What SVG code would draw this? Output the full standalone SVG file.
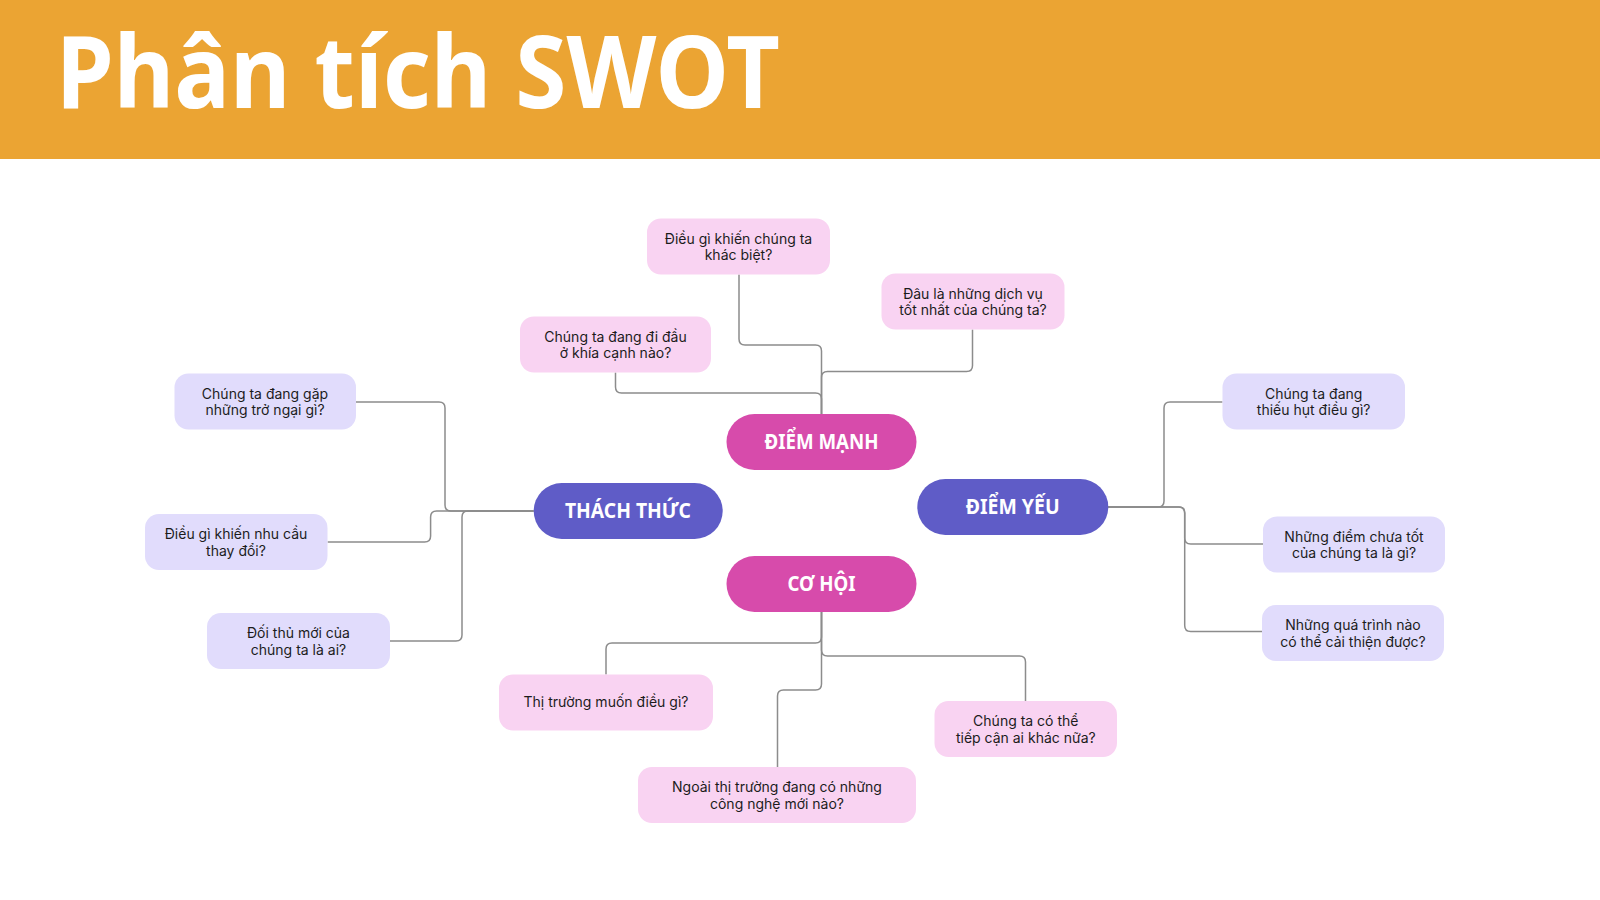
<svg xmlns="http://www.w3.org/2000/svg" width="1600" height="900" viewBox="0 0 1600 900">
<style>
.hdr{fill:#EBA433}
.title{font-family:"Noto Sans","Open Sans","DejaVu Sans",sans-serif;font-weight:700;font-size:100px;fill:#ffffff}
.pk{fill:#D74BAB}
.pu{fill:#5F5CC7}
.lp{fill:#F9D3F2}
.lv{fill:#E1DCFC}
.ct{font-family:"Noto Sans","Open Sans","DejaVu Sans",sans-serif;font-weight:700;font-size:22px;fill:#ffffff;text-anchor:middle}
.lt{font-family:Inter,"Noto Sans","Liberation Sans",sans-serif;font-size:14px;fill:#1c1c1c;text-anchor:middle}
.cn path{fill:none;stroke:#8C8C8C;stroke-width:1.5}
</style>
<rect class="hdr" x="0" y="0" width="1600" height="159"/>
<text class="title" x="56" y="108" textLength="724" lengthAdjust="spacingAndGlyphs">Phân tích SWOT</text>

<g id="connectors" class="cn">
<path d="M821.5,414 V351 Q821.5,345 815.5,345 H745 Q739,345 739,339 V274.5"/>
<path d="M821.5,414 V377.5 Q821.5,371.5 827.5,371.5 H966.5 Q972.5,371.5 972.5,365.5 V329.6"/>
<path d="M821.5,414 V399 Q821.5,393 815.5,393 H621.5 Q615.5,393 615.5,387 V372.5"/>
<path d="M533.7,511 H451 Q445,511 445,505 V408 Q445,402 439,402 H356"/>
<path d="M533.7,511 H436.6 Q430.6,511 430.6,517 V536 Q430.6,542 424.6,542 H327.6"/>
<path d="M533.7,511 H468 Q462,511 462,517 V635 Q462,641 456,641 H390"/>
<path d="M1108,507 H1158 Q1164,507 1164,501 V408 Q1164,402 1170,402 H1222.5"/>
<path d="M1108,507 H1178.7 Q1184.7,507 1184.7,513 V538 Q1184.7,544 1190.7,544 H1263"/>
<path d="M1108,507 H1178.7 Q1184.7,507 1184.7,513 V625.6 Q1184.7,631.6 1190.7,631.6 H1262"/>
<path d="M821.5,612 V637 Q821.5,643 815.5,643 H612 Q606,643 606,649 V674.5"/>
<path d="M821.5,612 V650 Q821.5,656 827.5,656 H1019.5 Q1025.5,656 1025.5,662 V701"/>
<path d="M821.5,612 V684 Q821.5,690 815.5,690 H783.5 Q777.5,690 777.5,696 V767"/>
</g>

<g id="diem-manh">
<rect class="pk" x="726.5" y="414" width="190" height="56" rx="28"/>
<text class="ct" x="821.5" y="448.5" textLength="114" lengthAdjust="spacingAndGlyphs">ĐIỂM MẠNH</text>
</g>
<g id="thach-thuc">
<rect class="pu" x="533.7" y="483" width="189" height="56" rx="28"/>
<text class="ct" x="628" y="517.5" textLength="126" lengthAdjust="spacingAndGlyphs">THÁCH THỨC</text>
</g>
<g id="diem-yeu">
<rect class="pu" x="917.3" y="479" width="191" height="56" rx="28"/>
<text class="ct" x="1012.7" y="513.5" textLength="94" lengthAdjust="spacingAndGlyphs">ĐIỂM YẾU</text>
</g>
<g id="co-hoi">
<rect class="pk" x="726.5" y="556" width="190" height="56" rx="28"/>
<text class="ct" x="821.5" y="590.5" textLength="68" lengthAdjust="spacingAndGlyphs">CƠ HỘI</text>
</g>

<g id="s1">
<rect class="lp" x="647" y="218.5" width="183" height="56" rx="14"/>
<text class="lt" x="738.5" y="243.5">Điều gì khiến chúng ta</text>
<text class="lt" x="738.5" y="260">khác biệt?</text>
</g>
<g id="s2">
<rect class="lp" x="881.5" y="273.5" width="183" height="56" rx="14"/>
<text class="lt" x="973" y="298.5">Đâu là những dịch vụ</text>
<text class="lt" x="973" y="315">tốt nhất của chúng ta?</text>
</g>
<g id="s3">
<rect class="lp" x="520" y="316.5" width="191" height="56" rx="14"/>
<text class="lt" x="615.5" y="341.5">Chúng ta đang đi đầu</text>
<text class="lt" x="615.5" y="358">ở khía cạnh nào?</text>
</g>

<g id="t1">
<rect class="lv" x="174.5" y="373.5" width="181.5" height="56" rx="14"/>
<text class="lt" x="265" y="398.5">Chúng ta đang gặp</text>
<text class="lt" x="265" y="415">những trở ngại gì?</text>
</g>
<g id="t2">
<rect class="lv" x="145" y="514" width="182.5" height="56" rx="14"/>
<text class="lt" x="236" y="539">Điều gì khiến nhu cầu</text>
<text class="lt" x="236" y="555.5">thay đổi?</text>
</g>
<g id="t3">
<rect class="lv" x="207" y="613" width="183" height="56" rx="14"/>
<text class="lt" x="298.5" y="638">Đối thủ mới của</text>
<text class="lt" x="298.5" y="654.5">chúng ta là ai?</text>
</g>

<g id="w1">
<rect class="lv" x="1222.5" y="373.5" width="182.5" height="56" rx="14"/>
<text class="lt" x="1313.7" y="398.5">Chúng ta đang</text>
<text class="lt" x="1313.7" y="415">thiếu hụt điều gì?</text>
</g>
<g id="w2">
<rect class="lv" x="1263" y="516.5" width="182" height="56" rx="14"/>
<text class="lt" x="1354" y="541.5">Những điểm chưa tốt</text>
<text class="lt" x="1354" y="558">của chúng ta là gì?</text>
</g>
<g id="w3">
<rect class="lv" x="1262" y="605" width="182" height="56" rx="14"/>
<text class="lt" x="1353" y="630">Những quá trình nào</text>
<text class="lt" x="1353" y="646.5">có thể cải thiện được?</text>
</g>

<g id="o1">
<rect class="lp" x="499" y="674.5" width="214" height="56" rx="14"/>
<text class="lt" x="606" y="706.5">Thị trường muốn điều gì?</text>
</g>
<g id="o2">
<rect class="lp" x="934.5" y="701" width="182.5" height="56" rx="14"/>
<text class="lt" x="1025.8" y="726">Chúng ta có thể</text>
<text class="lt" x="1025.8" y="742.5">tiếp cận ai khác nữa?</text>
</g>
<g id="o3">
<rect class="lp" x="638" y="767" width="278" height="56" rx="14"/>
<text class="lt" x="777" y="792">Ngoài thị trường đang có những</text>
<text class="lt" x="777" y="808.5">công nghệ mới nào?</text>
</g>
</svg>
